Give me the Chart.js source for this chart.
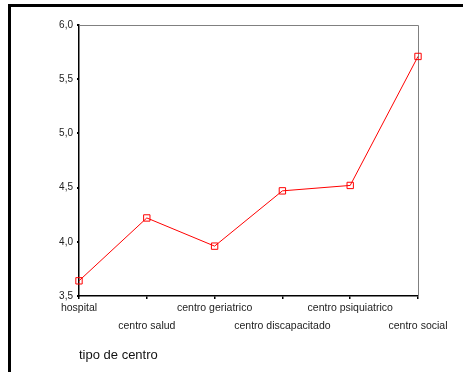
<!DOCTYPE html>
<html>
<head>
<meta charset="utf-8">
<script src="https://cdn.jsdelivr.net/npm/chart.js@4/dist/chart.umd.min.js"></script>
<style>
  html, body { margin: 0; padding: 0; background: #fff; }
  #wrap { width: 463px; height: 372px; position: relative; }
</style>
</head>
<body>
<div id="wrap"><canvas id="c" width="463" height="372"></canvas></div>
<script>
const categories = ["hospital", "centro salud", "centro geriatrico", "centro discapacitado", "centro psiquiatrico", "centro social"];
const meanValues = [3.64, 4.22, 3.96, 4.47, 4.52, 5.71];
const yTicks = [3.5, 4.0, 4.5, 5.0, 5.5, 6.0];
const xTitle = "tipo de centro";

const FONT = "'Liberation Sans', Arial, sans-serif";

const framePlugin = {
  id: 'frame',
  beforeDatasetsDraw(chart) {
    const { ctx, chartArea: a } = chart;
    ctx.save();
    ctx.strokeStyle = '#808080';
    ctx.lineWidth = 1;
    ctx.beginPath();
    ctx.moveTo(a.left, a.top + 0.5);
    ctx.lineTo(a.right + 0.5, a.top + 0.5);
    ctx.lineTo(a.right + 0.5, a.bottom);
    ctx.stroke();
    ctx.restore();
  },
  afterDraw(chart) {
    const { ctx } = chart;
    ctx.save();
    ctx.fillStyle = '#000';
    ctx.fillRect(8, 4, 463 - 8, 3);
    ctx.fillRect(8, 4, 3, 372 - 4);
    ctx.restore();
  }
};

new Chart(document.getElementById('c'), {
  type: 'line',
  data: {
    labels: categories,
    datasets: [{
      data: meanValues,
      borderColor: '#ff0000',
      borderWidth: 1,
      pointStyle: 'rect',
      pointRadius: 4.5,
      pointBorderWidth: 1,
      pointBorderColor: '#ff0000',
      pointBackgroundColor: 'rgba(0,0,0,0)',
      tension: 0,
      clip: false
    }]
  },
  options: {
    responsive: false,
    animation: false,
    devicePixelRatio: 1,
    layout: { padding: { left: 0, top: 25, right: 45, bottom: 0 } },
    plugins: { legend: { display: false }, tooltip: { enabled: false } },
    scales: {
      x: {
        type: 'category',
        offset: false,
        afterFit(axis) { axis.height = 76; },
        grid: { drawOnChartArea: false, drawTicks: true, tickLength: 3, color: '#000', lineWidth: 1.5 },
        border: { display: true, color: '#000', width: 1.5 },
        ticks: {
          autoSkip: false,
          maxRotation: 0,
          padding: 0,
          color: '#222',
          font: { family: FONT, size: 10.5, lineHeight: 1.7 },
          callback(value, index) {
            const lab = categories[index];
            return index % 2 === 0 ? [lab, ''] : ['', lab];
          }
        },
        title: {
          display: true,
          text: xTitle,
          align: 'start',
          color: '#111',
          font: { family: FONT, size: 13 },
          padding: { top: 0, bottom: 9 }
        }
      },
      y: {
        min: 3.5,
        max: 6.0,
        afterFit(axis) { axis.width = 79; },
        afterBuildTicks(axis) { axis.ticks = yTicks.map(v => ({ value: v })); },
        grid: { drawOnChartArea: false, drawTicks: true, tickLength: 2, color: '#000', lineWidth: 2 },
        border: { display: true, color: '#000', width: 1.5 },
        ticks: {
          padding: 4,
          color: '#222',
          font: { family: FONT, size: 10 },
          callback(value) { return Number(value).toFixed(1).replace('.', ','); }
        }
      }
    }
  },
  plugins: [framePlugin]
});
</script>
</body>
</html>
